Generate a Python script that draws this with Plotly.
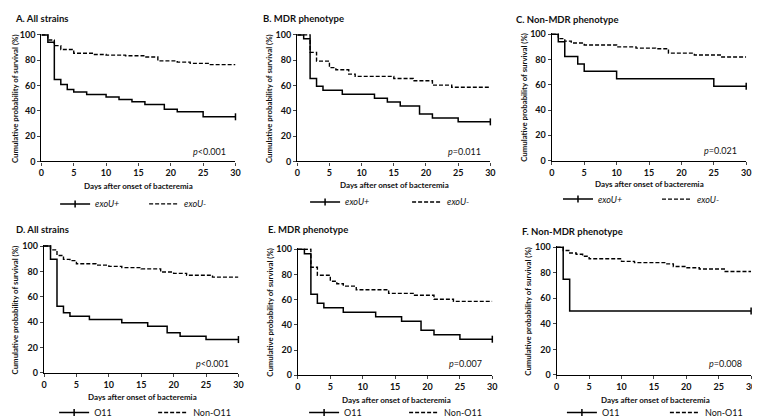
import plotly.graph_objects as go

W, H = 760, 419

# ---------------- data ----------------
days_ticks = [0, 5, 10, 15, 20, 25, 30]
surv_ticks = [0, 20, 40, 60, 80, 100]

# A. All strains (exoU)
A_pos_t = [0, 1, 2, 3, 4, 5, 7, 10, 12, 14, 16, 19, 21, 25, 30]
A_pos_s = [100, 94.1, 64.7, 60.8, 56.9, 54.9, 52.9, 51.0, 49.0, 47.1, 45.1, 41.2, 39.2, 35.3, 35.3]
A_neg_t = [0, 1, 2, 3, 5, 8, 10, 13, 16, 18, 21, 23, 26, 30]
A_neg_s = [100, 96, 91.5, 88.5, 85.5, 84.5, 84, 83.5, 82.5, 79.5, 78.5, 77.5, 76.5, 76.5]

# B. MDR phenotype (exoU)
B_pos_t = [0, 1, 2, 3, 4, 7, 12, 14, 16, 19, 21, 25, 30]
B_pos_s = [100, 96.9, 65.6, 59.4, 56.3, 53.1, 50.0, 46.9, 43.8, 37.5, 34.4, 31.3, 31.3]
B_neg_t = [0, 2, 3, 5, 6, 8, 9, 15, 18, 21, 24, 30]
B_neg_s = [100, 86.2, 79.3, 74.1, 72.4, 69.0, 67.2, 65.5, 63.8, 60.3, 58.6, 58.6]

# C. Non-MDR phenotype (exoU)
C_pos_t = [0, 1, 2, 4, 5, 10, 25, 30]
C_pos_s = [100, 94.1, 82.4, 76.5, 70.6, 64.7, 58.8, 58.8]
C_neg_t = [0, 1, 2, 3, 5, 10, 13, 16, 18, 22, 26, 30]
C_neg_s = [100, 96.5, 94.5, 93, 91.5, 90, 89, 88.5, 85, 83.5, 82, 82]

# D. All strains (O11)
D_pos_t = [0, 1, 2, 3, 4, 7, 12, 16, 19, 21, 25, 30]
D_pos_s = [100, 89.5, 52.6, 47.4, 44.7, 42.1, 39.5, 36.8, 31.6, 28.9, 26.3, 26.3]
D_neg_t = [0, 1, 2, 3, 4, 5, 8, 10, 12, 15, 18, 20, 22, 26, 30]
D_neg_s = [100, 97, 92.5, 89.5, 88.5, 86, 85, 84, 83, 82, 79.5, 78.5, 77, 75.5, 75.5]

# E. MDR phenotype (O11)
E_pos_t = [0, 1, 2, 3, 4, 7, 12, 16, 19, 21, 25, 30]
E_pos_s = [100, 96.4, 64.3, 57.1, 53.6, 50.0, 46.4, 42.9, 35.7, 32.1, 28.6, 28.6]
E_neg_t = [0, 2, 3, 5, 6, 7, 9, 14, 18, 21, 24, 30]
E_neg_s = [100, 85.7, 79.3, 74.6, 72.6, 70.7, 67.9, 65.0, 63.5, 60.3, 58.6, 58.6]

# F. Non-MDR phenotype (O11)
F_pos_t = [0, 1, 2, 30]
F_pos_s = [100, 75, 50, 50]
F_neg_t = [0, 1, 2, 3, 4, 5, 10, 12, 17, 18, 20, 22, 26, 30]
F_neg_s = [100, 97.5, 95.5, 94.5, 93, 91, 89, 88, 87, 85, 84, 83, 81, 81]

titles = ["A. All strains", "B. MDR phenotype", "C. Non-MDR phenotype",
          "D. All strains", "E. MDR phenotype", "F. Non-MDR phenotype"]
pvalues = ["<i>p</i>&lt;0.001", "<i>p</i>=0.011", "<i>p</i>=0.021",
           "<i>p</i>&lt;0.001", "<i>p</i>=0.007", "<i>p</i>=0.008"]
pos_labels = ["<i>exoU+</i>"] * 3 + ["O11"] * 3
neg_labels = ["<i>exoU-</i>"] * 3 + ["Non-O11"] * 3
x_title = "Days after onset of bacteremia"
y_title = "Cumulative probability of survival (%)"

series = [(A_pos_t, A_pos_s, A_neg_t, A_neg_s), (B_pos_t, B_pos_s, B_neg_t, B_neg_s),
          (C_pos_t, C_pos_s, C_neg_t, C_neg_s), (D_pos_t, D_pos_s, D_neg_t, D_neg_s),
          (E_pos_t, E_pos_s, E_neg_t, E_neg_s), (F_pos_t, F_pos_s, F_neg_t, F_neg_s)]

# ---------------- layout geometry (pixels) ----------------
panels = [
    dict(x0=31, x1=229, y100=22.7, y0=154, title=(1.7, 5.5), ytx=4, xt=(130, 179), leg=(45, 198), ew=44, p=(221, 144)),
    dict(x0=292, x1=489, y100=22.7, y0=154, title=(254.7, 6), ytx=263, xt=(391, 178), leg=(300, 196), ew=57, p=(482, 144)),
    dict(x0=551.7, x1=750, y100=22, y0=153, title=(512.7, 6.7), ytx=523.7, xt=(651, 177), leg=(558, 193), ew=54, p=(742.7, 142.7)),
    dict(x0=33.7, x1=232, y100=241.7, y0=373.3, title=(3.3, 224.7), ytx=5, xt=(134, 398), leg=(44, 414.5), ew=54, p=(224, 363)),
    dict(x0=292.7, x1=491, y100=245, y0=375.7, title=(259.7, 225), ytx=264.7, xt=(393, 401), leg=(299, 414.5), ew=55, p=(483, 364)),
    dict(x0=556.7, x1=755, y100=243, y0=375.3, title=(519.3, 226.3), ytx=527, xt=(657, 401), leg=(562, 414.5), ew=58, p=(747.7, 364)),
]

YMAX = 100.8
FONT = "Lato"
TXT = "#111111"

def px(x):
    return x / W

def py(y):
    return 1 - y / H

fig = go.Figure()
layout = dict(width=W, height=H, margin=dict(l=0, r=0, t=0, b=0),
              paper_bgcolor="white", plot_bgcolor="white", showlegend=True,
              font=dict(family=FONT, color=TXT))
annotations = []

for i, (pan, (pt, ps, nt, ns)) in enumerate(zip(panels, series)):
    k = "" if i == 0 else str(i + 1)
    xa, ya = "x" + k, "y" + k
    leg = "legend" + k
    unit = (pan["y0"] - pan["y100"]) / 100.0
    ytop = pan["y0"] - unit * YMAX
    axis_common = dict(ticks="outside", ticklen=3, tickwidth=1.3, showline=True, linecolor="black",
                       linewidth=1.4, showgrid=False, zeroline=False,
                       tickfont=dict(family=FONT, size=9, weight="bold", color=TXT))
    layout["xaxis" + k] = dict(domain=[px(pan["x0"]), px(pan["x1"])], range=[0, 30], anchor=ya,
                               tickvals=days_ticks, **axis_common)
    layout["yaxis" + k] = dict(domain=[py(pan["y0"]), py(ytop)], range=[0, YMAX], anchor=xa,
                               tickvals=surv_ticks, **axis_common)
    layout[leg] = dict(orientation="h", x=px(pan["leg"][0]), y=py(pan["leg"][1]),
                       xanchor="left", yanchor="middle", entrywidth=pan["ew"], entrywidthmode="pixels",
                       bgcolor="rgba(0,0,0,0)", borderwidth=0, itemwidth=30,
                       font=dict(family=FONT, size=9, color=TXT))

    fig.add_trace(go.Scatter(x=pt, y=ps, xaxis=xa, yaxis=ya, mode="lines", line_shape="hv",
                             line=dict(color="black", width=1.5), showlegend=False, legend=leg,
                             hoverinfo="skip"))
    fig.add_trace(go.Scatter(x=[pt[-1]], y=[ps[-1]], xaxis=xa, yaxis=ya, mode="lines+markers",
                             line=dict(color="black", width=1.5), cliponaxis=False,
                             marker=dict(symbol="line-ns", size=5, color="black",
                                         line=dict(color="black", width=1.5)),
                             name=pos_labels[i], legend=leg, showlegend=True))
    fig.add_trace(go.Scatter(x=nt, y=ns, xaxis=xa, yaxis=ya, mode="lines", line_shape="hv",
                             line=dict(color="black", width=1.4, dash="4px,2px"),
                             name=neg_labels[i], legend=leg, showlegend=True))

    annotations.append(dict(text="<b>" + titles[i] + "</b>", x=px(pan["title"][0]), y=py(pan["title"][1]),
                            xref="paper", yref="paper", xanchor="left", yanchor="middle", showarrow=False,
                            font=dict(family=FONT, size=9.5, color=TXT)))
    annotations.append(dict(text="<b>" + y_title + "</b>", x=px(pan["ytx"]), y=py((pan["y0"] + pan["y100"]) / 2),
                            xref="paper", yref="paper", xanchor="center", yanchor="middle", textangle=-90,
                            showarrow=False, font=dict(family=FONT, size=7.8, color=TXT)))
    annotations.append(dict(text="<b>" + x_title + "</b>", x=px(pan["xt"][0]), y=py(pan["xt"][1]),
                            xref="paper", yref="paper", xanchor="center", yanchor="middle",
                            showarrow=False, font=dict(family=FONT, size=8, color=TXT)))
    annotations.append(dict(text=pvalues[i], x=px(pan["p"][0]), y=py(pan["p"][1]),
                            xref="paper", yref="paper", xanchor="right", yanchor="middle",
                            showarrow=False, font=dict(family=FONT, size=9, color=TXT)))

layout["annotations"] = annotations
fig.update_layout(**layout)
fig.write_html("out.html")
